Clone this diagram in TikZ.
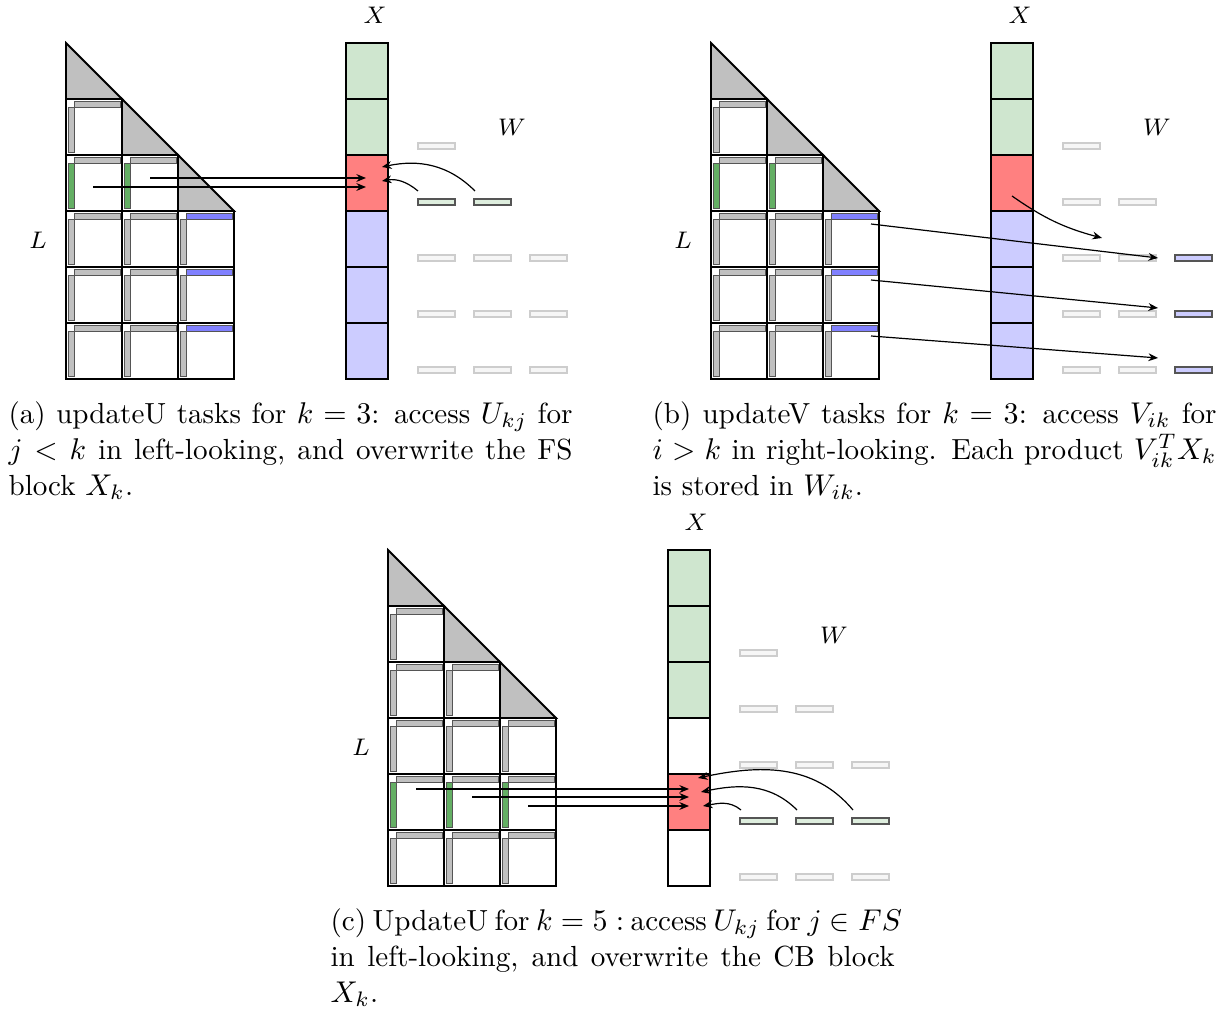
\documentclass[tikz,border=0pt]{standalone}
\usetikzlibrary{arrows.meta}
\definecolor{Lgray}{RGB}{192,192,192}
\definecolor{barline}{RGB}{85,85,85}
\definecolor{Lgreen}{RGB}{100,175,100}
\definecolor{Lblue}{RGB}{128,128,255}
\definecolor{Xgreen}{RGB}{207,230,207}
\definecolor{Xred}{RGB}{255,128,128}
\definecolor{Xblue}{RGB}{204,204,255}
\definecolor{Wact}{RGB}{222,238,222}
\definecolor{Wbg}{RGB}{246,246,246}
\definecolor{Wline}{RGB}{205,205,205}
\tikzset{
  edgeline/.style={line width=0.6pt, draw=black},
  diagblk/.style={edgeline, fill=Lgray},
  cellbox/.style={edgeline, fill=white},
  barbox/.style={draw=barline, line width=0.3pt, fill=Lgray},
  greenbar/.style={draw=barline, line width=0.3pt, fill=Lgreen},
  bluebar/.style={draw=barline, line width=0.3pt, fill=Lblue},
  wbar/.style={draw=Wline, line width=0.45pt, fill=Wbg},
  wact/.style={draw=barline, line width=0.45pt, fill=Wact},
  wblue/.style={draw=barline, line width=0.45pt, fill=Xblue},
  arr/.style={-{Stealth[length=3.2pt,width=2.6pt]}, line width=0.4pt},
  lbl/.style={font=\footnotesize, inner sep=0pt},
  captext/.style={text width=188pt, align=justify, inner sep=0pt, anchor=north west, font=\fontsize{9.7}{12}\selectfont},
}
% #1 = row index with green vertical bars, #2 = 1 if blue horizontal bars in last column
\newcommand\drawLmat[2]{%
  \foreach \r in {0,...,5}{\foreach \c in {0,...,2}{%
    \pgfmathtruncatemacro\xx{66+56*\c}%
    \pgfmathtruncatemacro\yy{43+56*\r}%
    \ifnum\r=\c
      \draw[diagblk] (\xx,\yy) -- (\xx,\yy+56) -- (\xx+56,\yy+56) -- cycle;
    \else\ifnum\r>\c
      \draw[cellbox] (\xx,\yy) rectangle (\xx+56,\yy+56);
      \ifnum\r=#1
        \draw[greenbar] (\xx+2,\yy+8) rectangle (\xx+8,\yy+53);
      \else
        \draw[barbox] (\xx+2,\yy+8) rectangle (\xx+8,\yy+53);
      \fi
      \ifnum#2=1 \ifnum\c=2
        \draw[bluebar] (\xx+8,\yy+2) rectangle (\xx+54,\yy+8);
      \else
        \draw[barbox] (\xx+8,\yy+2) rectangle (\xx+54,\yy+8);
      \fi\else
        \draw[barbox] (\xx+8,\yy+2) rectangle (\xx+54,\yy+8);
      \fi
    \fi\fi
  }}%
}
% W bars: #1 = mode (0: panel a, 1: panel b, 2: panel c)
\newcommand\drawWbars[1]{%
  \foreach \j in {0,...,4}{\foreach \c in {0,...,2}{%
    \pgfmathtruncatemacro\xx{418+56*\c}%
    \pgfmathtruncatemacro\yy{143+56*\j}%
    \ifnum\c>\j\else
      \def\wsty{wbar}%
      \ifnum#1=0 \ifnum\j=1 \def\wsty{wact}\fi\fi
      \ifnum#1=1 \ifnum\c=2 \def\wsty{wblue}\fi\fi
      \ifnum#1=2 \ifnum\j=3 \def\wsty{wact}\fi\fi
      \draw[\wsty] (\xx,\yy) rectangle (\xx+37,\yy+6);
    \fi
  }}%
}
\begin{document}
\begin{tikzpicture}[x=0.33333pt,y=-0.33333pt]
\useasboundingbox (0,0) rectangle (1229,1010);

% ---------------- panel (a)
\drawLmat{2}{1}
\foreach \i/\col in {0/Xgreen,1/Xgreen,2/Xred,3/Xblue,4/Xblue,5/Xblue}{
  \draw[edgeline, fill=\col] (346,43+56*\i) rectangle (388,99+56*\i);
}
\drawWbars{0}
\node[lbl] (aXl) at (375,15) {$X$};
\node[lbl] (aWl) at (512,127) {$W$};
\node[lbl] (aLl) at (38,240) {$L$};
\coordinate (aS1) at (93,187);  \coordinate (aE1) at (366,187);
\coordinate (aS2) at (150,178); \coordinate (aE2) at (366,178);
\draw[arr] (aS1) -- (aE1);
\draw[arr] (aS2) -- (aE2);
\coordinate (aW1) at (418,191); \coordinate (aF1) at (382,181);
\coordinate (aW2) at (475,191); \coordinate (aF2) at (382,167);
\draw[arr] (aW1) to[out=140,in=10] (aF1);
\draw[arr] (aW2) to[out=135,in=12] (aF2);
\node[captext] (acap) at (8,401) {(a) updateU tasks for $k=3$: access $U_{kj}$ for\linebreak $j<k$ in left-looking, and overwrite the FS\linebreak block $X_k$.};

% ---------------- panel (b)
\begin{scope}[shift={(645,0)}]
\drawLmat{2}{1}
\foreach \i/\col in {0/Xgreen,1/Xgreen,2/Xred,3/Xblue,4/Xblue,5/Xblue}{
  \draw[edgeline, fill=\col] (346,43+56*\i) rectangle (388,99+56*\i);
}
\drawWbars{1}
\end{scope}
\node[lbl] (bXl) at (1020,15) {$X$};
\node[lbl] (bWl) at (1157,127) {$W$};
\node[lbl] (bLl) at (683,240) {$L$};
\coordinate (bS1) at (871,224); \coordinate (bE1) at (1158,258);
\coordinate (bS2) at (871,280); \coordinate (bE2) at (1158,308);
\coordinate (bS3) at (871,336); \coordinate (bE3) at (1158,358);
\draw[arr] (bS1) -- (bE1);
\draw[arr] (bS2) -- (bE2);
\draw[arr] (bS3) -- (bE3);
\coordinate (bX) at (1012,196); \coordinate (bW) at (1102,238);
\draw[arr] (bX) to[out=-35,in=165] (bW);
\node[captext] (bcap) at (652,401) {(b) updateV tasks for $k=3$: access $V_{ik}$ for\linebreak $i>k$ in right-looking. Each product $V_{ik}^TX_k$\linebreak is stored in $W_{ik}$.};

% ---------------- panel (c)
\begin{scope}[shift={(322,507)}]
\drawLmat{4}{0}
\foreach \i/\col in {0/Xgreen,1/Xgreen,2/Xgreen,3/white,4/Xred,5/white}{
  \draw[edgeline, fill=\col] (346,43+56*\i) rectangle (388,99+56*\i);
}
\drawWbars{2}
\end{scope}
\node[lbl] (cXl) at (696,522) {$X$};
\node[lbl] (cWl) at (834,635) {$W$};
\node[lbl] (cLl) at (361,747) {$L$};
\coordinate (cS1) at (416,789); \coordinate (cE1) at (689,789);
\coordinate (cS2) at (472,797); \coordinate (cE2) at (689,797);
\coordinate (cS3) at (528,806); \coordinate (cE3) at (689,806);
\draw[arr] (cS1) -- (cE1);
\draw[arr] (cS2) -- (cE2);
\draw[arr] (cS3) -- (cE3);
\coordinate (cW1) at (741,810); \coordinate (cF1) at (703,806);
\coordinate (cW2) at (797,810); \coordinate (cF2) at (701,792);
\coordinate (cW3) at (853,810); \coordinate (cF3) at (698,778);
\draw[arr] (cW1) to[out=140,in=10] (cF1);
\draw[arr] (cW2) to[out=135,in=12] (cF2);
\draw[arr] (cW3) to[out=130,in=12] (cF3);
\node[captext] (ccap) at (330,908) {\hbox to \linewidth{(c) UpdateU for $k=5:$ access $U_{kj}$ for $j\in FS$}\par in left-looking, and overwrite the CB block\linebreak $X_k$.};
\end{tikzpicture}
\end{document}
